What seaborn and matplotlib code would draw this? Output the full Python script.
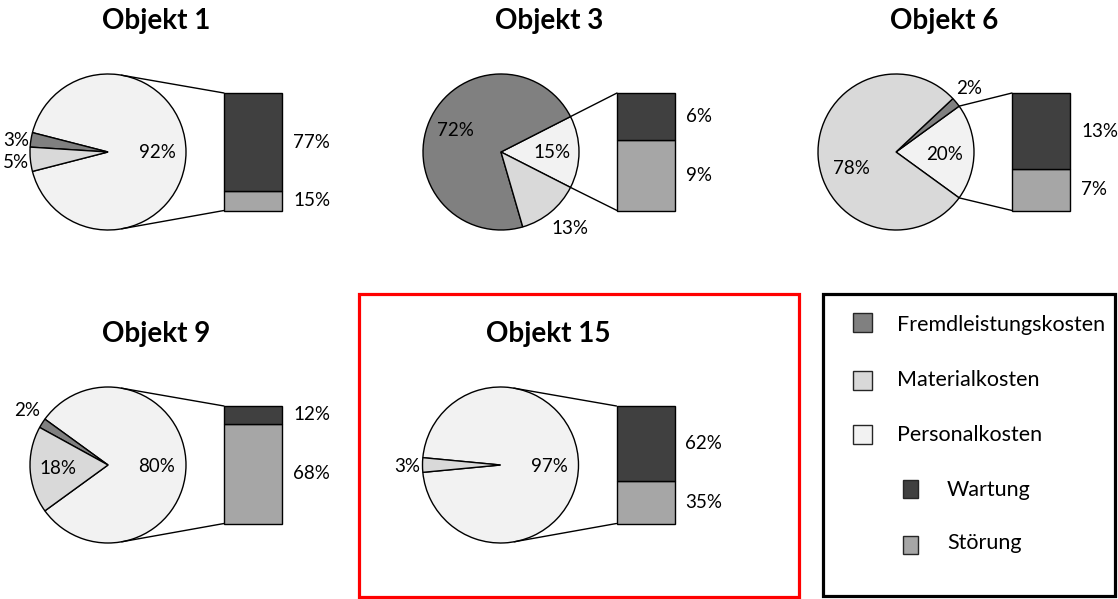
import numpy as np
import matplotlib
matplotlib.use("Agg")
import matplotlib.pyplot as plt
from matplotlib.patches import Rectangle
import seaborn as sns

# ---------------- data ----------------
objects = ["Objekt 1", "Objekt 3", "Objekt 6", "Objekt 9", "Objekt 15"]
fremdleistung = [3, 72, 2, 2, 0]
material = [5, 13, 78, 18, 3]
personal = [92, 15, 20, 80, 97]
wartung = [77, 6, 13, 12, 62]
stoerung = [15, 9, 7, 68, 35]
legend_labels = ["Fremdleistungskosten", "Materialkosten", "Personalkosten", "Wartung", "Störung"]

# ---------------- style ----------------
sns.set_theme(style="white")
plt.rcParams["font.family"] = ["Lato", "DejaVu Sans"]
palette = sns.color_palette(["#808080", "#d9d9d9", "#f2f2f2", "#404040", "#a6a6a6"])
c_fremd, c_mat, c_pers, c_wart, c_stoer = palette

W, H = 1118, 599
fig = plt.figure(figsize=(W / 100, H / 100), dpi=100)
ax = fig.add_axes([0, 0, 1, 1])


def Y(py):
    return H - py


# layout (pixel coords, y from top)
pie_centers = [(108, 152), (501, 152), (896, 152), (108, 465), (500.5, 465)]
R = 78
BAR_DX, BAR_W, BAR_TOP_DY, BAR_H = 116, 58, -59, 117.5
slice_label_pos = [
    {"p": (157, 153), "f": (16, 140), "m": (16, 162)},
    {"p": (552, 153), "f": (455, 130), "m": (570, 229)},
    {"p": (945, 154), "f": (969, 88), "m": (851, 168)},
    {"p": (157, 467), "f": (27, 410), "m": (58, 469)},
    {"p": (549, 467), "f": None, "m": (407, 467)},
]
PCT_FS = 13.5
TITLE_FS = 20
LEG_FS = 15.5

for i, name in enumerate(objects):
    cx, cy = pie_centers[i]
    p, f, m = personal[i], fremdleistung[i], material[i]
    vals, cols = [], []
    for v, c in ((p, c_pers), (f, c_fremd), (m, c_mat)):
        if v > 0:
            vals.append(v)
            cols.append(c)
    ax.pie(vals, colors=cols, startangle=-p * 1.8, counterclock=True,
           center=(cx, Y(cy)), radius=R, frame=False,
           wedgeprops=dict(edgecolor="black", linewidth=1.0))

    # stacked bar for personal share
    bx = cx + BAR_DX
    btop = cy + BAR_TOP_DY
    bbot = btop + BAR_H
    hs = stoerung[i] / p * BAR_H
    hw = wartung[i] / p * BAR_H
    ax.bar(bx + BAR_W / 2, hs, bottom=Y(bbot), width=BAR_W, color=c_stoer,
           edgecolor="black", linewidth=1.0)
    ax.bar(bx + BAR_W / 2, hw, bottom=Y(bbot) + hs, width=BAR_W, color=c_wart,
           edgecolor="black", linewidth=1.0)
    ax.text(bx + BAR_W + 11, Y(bbot) + hs + hw / 2, f"{wartung[i]}%", fontsize=PCT_FS,
            ha="left", va="center", color="black")
    ax.text(bx + BAR_W + 11, Y(bbot) + hs / 2, f"{stoerung[i]}%", fontsize=PCT_FS,
            ha="left", va="center", color="black")

    # connector lines
    ccx, ccy = cx, Y(cy)
    corners = [(bx, Y(btop)), (bx, Y(bbot))]
    half = p * 1.8
    for k, (px_, py_) in enumerate(corners):
        if p < 50:
            ang = np.deg2rad(half if k == 0 else -half)
        else:
            d = np.hypot(px_ - ccx, py_ - ccy)
            phi = np.arctan2(py_ - ccy, px_ - ccx)
            alpha = np.arccos(R / d)
            ang = phi + alpha if k == 0 else phi - alpha
        sx, sy = ccx + R * np.cos(ang), ccy + R * np.sin(ang)
        ax.plot([sx, px_], [sy, py_], color="black", linewidth=1.0)

    # slice labels
    lp = slice_label_pos[i]
    for key, v in (("p", p), ("f", f), ("m", m)):
        if v > 0 and lp[key] is not None:
            lx, ly = lp[key]
            ax.text(lx, Y(ly), f"{v}%", fontsize=PCT_FS, ha="center", va="center",
                    color="black")

    # title
    ax.text(cx + 48, Y(cy - 131), name, fontsize=TITLE_FS, fontweight="bold",
            ha="center", va="center", color="black")

# highlight box around Objekt 15
ax.add_patch(Rectangle((358.5, Y(596.5)), 440, 302.5, fill=False,
                       edgecolor="#ff0000", linewidth=2.3))

# legend box
ax.add_patch(Rectangle((822.5, Y(596)), 292.5, 302, fill=False,
                       edgecolor="black", linewidth=2.3))
leg_colors = [c_fremd, c_mat, c_pers, c_wart, c_stoer]
leg_sq = [(862, 322.5, 19, 19), (862, 380, 19, 19), (862, 434, 19, 19),
          (910, 488.5, 15, 18), (910, 545, 15, 18)]
leg_text = [(897, 325), (897, 380), (897, 435), (947, 490), (947, 543)]
for lab, col, (sx, sy, sw, sh), (tx, ty) in zip(legend_labels, leg_colors, leg_sq, leg_text):
    ax.add_patch(Rectangle((sx - sw / 2, Y(sy) - sh / 2), sw, sh, facecolor=col,
                           edgecolor="#262626", linewidth=1.0))
    ax.text(tx, Y(ty), lab, fontsize=LEG_FS, ha="left", va="center", color="black")

ax.set_xlim(0, W)
ax.set_ylim(0, H)
ax.set_aspect("auto")
ax.axis("off")
fig.savefig("out.png", dpi=100)
